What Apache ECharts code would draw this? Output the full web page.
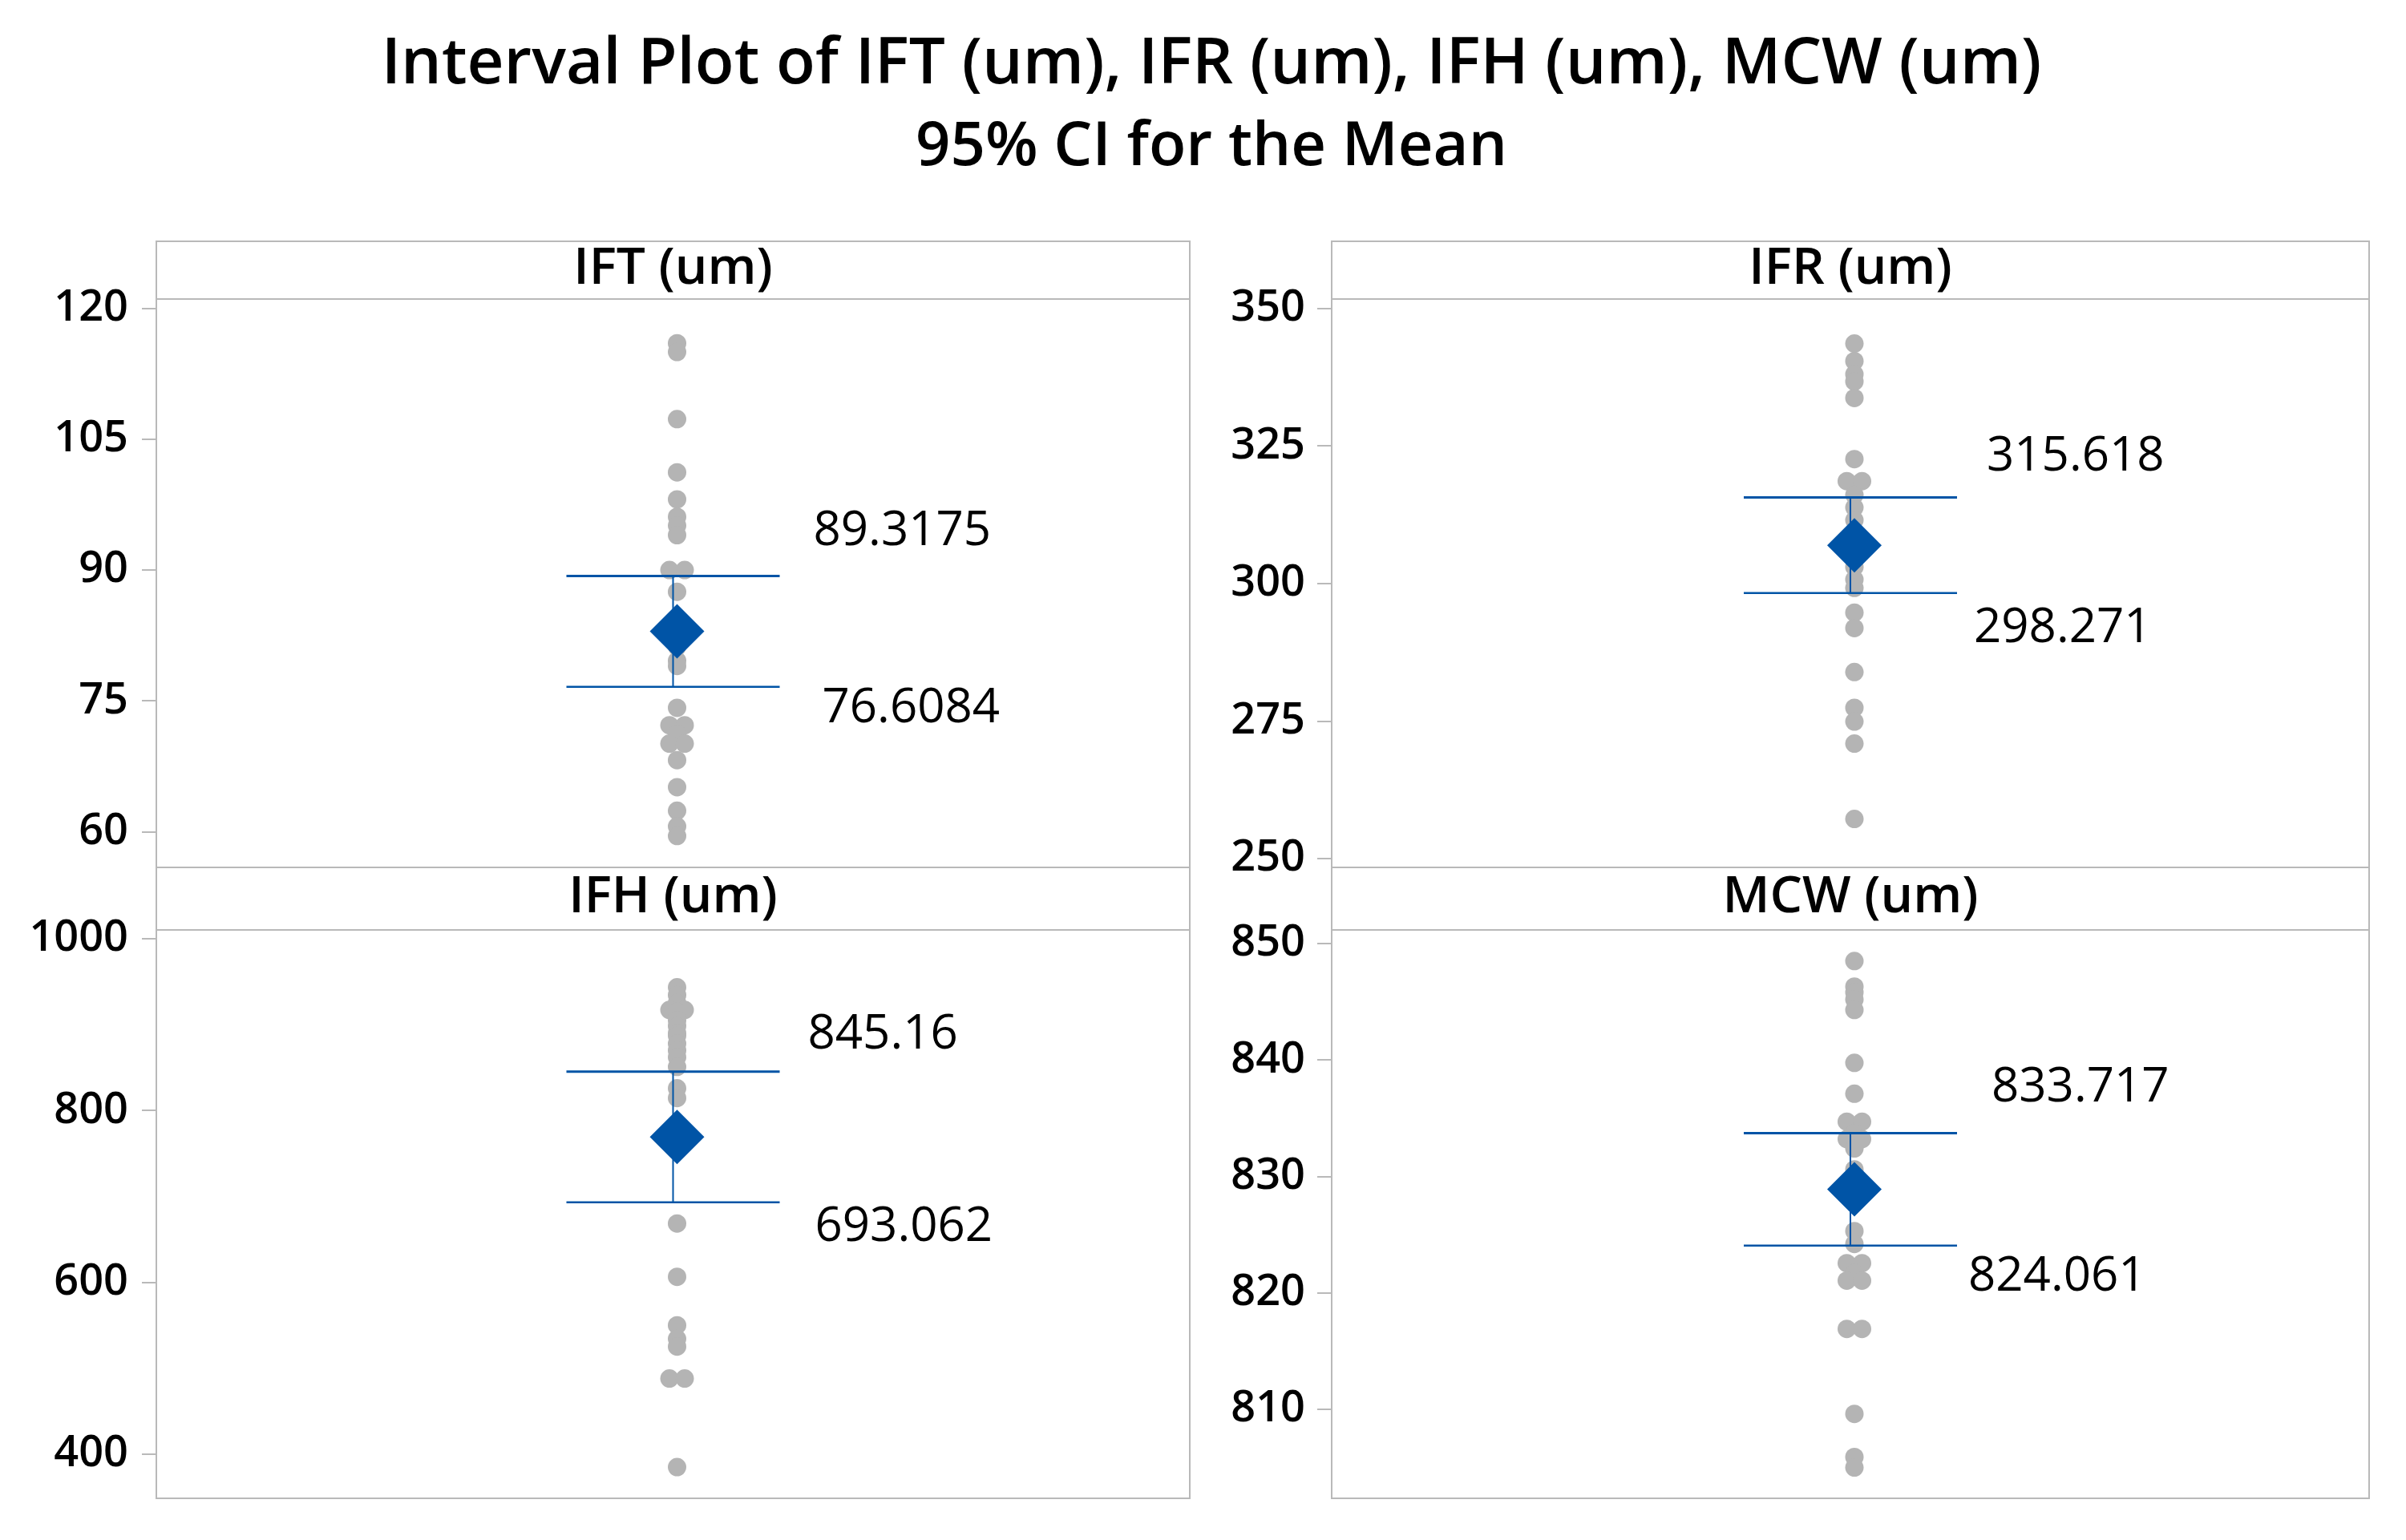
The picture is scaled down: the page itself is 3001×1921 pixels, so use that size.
<!DOCTYPE html>
<html>
<head>
<meta charset="utf-8">
<script src="https://cdn.jsdelivr.net/npm/echarts@6/dist/echarts.min.js"></script>
<style>html,body{margin:0;padding:0;background:#fff}#c{width:3001px;height:1921px}</style>
</head>
<body>
<div id="c"></div>
<script>
// ---------- data ----------
const categories = ['IFT (um)', 'IFR (um)', 'IFH (um)', 'MCW (um)'];
const IFT = [116.0, 115.0, 107.3, 101.2, 98.1, 96.1, 95.1, 94.0, 90.0, 90.0, 87.5, 82.3, 81.2, 79.6, 79.0, 74.2, 72.2, 72.2, 71.2, 70.1, 70.1, 68.2, 65.1, 62.4, 60.6, 59.5];
const IFR = [343.6, 340.4, 338.0, 336.7, 333.7, 322.6, 318.6, 318.6, 316.1, 313.8, 311.5, 309.0, 306.0, 303.0, 300.7, 299.2, 294.7, 291.9, 283.9, 277.4, 274.9, 270.9, 257.2];
const IFH = [943.4, 934.4, 925.3, 917.0, 917.0, 915.0, 905.0, 898.2, 890.0, 886.9, 877.8, 870.0, 862.0, 850.7, 825.8, 814.5, 668.3, 606.3, 549.8, 534.0, 525.0, 487.8, 487.8, 384.6];
const MCW = [848.5, 846.3, 845.8, 845.2, 844.3, 839.75, 837.1, 834.7, 834.7, 833.7, 833.2, 833.2, 832.4, 830.6, 825.3, 824.2, 822.55, 822.55, 821.7, 821.05, 821.05, 816.9, 816.9, 809.6, 805.9, 805.0];
const ciLower = [76.6084, 298.271, 693.062, 824.061];
const ciUpper = [89.3175, 315.618, 845.16, 833.717];
const means = [82.963, 306.944, 769.111, 828.889];
const ticksIFT = [60, 75, 90, 105, 120];
const ticksIFR = [250, 275, 300, 325, 350];
const ticksIFH = [400, 600, 800, 1000];
const ticksMCW = [810, 820, 830, 840, 850];

const values = [IFT, IFR, IFH, MCW];
const ticks = [ticksIFT, ticksIFR, ticksIFH, ticksMCW];

// ---------- layout / style ----------
const FONT = '"Open Sans", "Noto Sans", sans-serif';
const BLUE = '#0054a6';
const GREY_DOT = '#b4b4b4';
const FRAME = '#b9b9b9';
const axisRange = [[55.9, 121.07], [248.4, 351.69], [348.3, 1010.2], [802.35, 851.17]];
const panels = [
  {left: 195, width: 1289, stripTop: 301, top: 373, height: 709, labUp: [42, -56], labLo: [53, 27], margin: 35},
  {left: 1661, width: 1294, stripTop: 301, top: 373, height: 709, labUp: [37, -51], labLo: [21, 44], margin: 33},
  {left: 195, width: 1289, stripTop: 1082, top: 1160, height: 709, labUp: [35, -46], labLo: [44, 31], margin: 35},
  {left: 1661, width: 1294, stripTop: 1082, top: 1160, height: 709, labUp: [43, -57], labLo: [14, 39], margin: 33}
];
const DOT = 23, DODGE = 19, DOT_SHIFT = 5, CAP_HALF = 133, DIAMOND = 68;

function dodge(vals) {
  return vals.map((v, i) => {
    const same = [];
    vals.forEach((w, j) => { if (w === v) same.push(j); });
    const k = same.length, pos = same.indexOf(i);
    return (pos - (k - 1) / 2) * DODGE;
  });
}

const grid = [], xAxis = [], yAxis = [], series = [], graphic = [];

panels.forEach((P, i) => {
  grid.push({left: P.left, top: P.top, width: P.width, height: P.height,
    show: true, borderColor: FRAME, borderWidth: 2, backgroundColor: 'transparent', containLabel: false});
  xAxis.push({gridIndex: i, type: 'value', min: -1, max: 1, show: false});
  yAxis.push({gridIndex: i, type: 'value', position: 'left', min: axisRange[i][0], max: axisRange[i][1],
    axisLine: {show: true, onZero: false, lineStyle: {color: FRAME, width: 2}},
    axisTick: {show: true, length: 18, customValues: ticks[i], lineStyle: {color: FRAME, width: 2}},
    axisLabel: {customValues: ticks[i], fontSize: 54, fontWeight: 600, fontFamily: FONT, color: '#000',
      margin: P.margin, formatter: v => String(v)},
    splitLine: {show: false}});

  const offs = dodge(values[i]);
  series.push({type: 'scatter', xAxisIndex: i, yAxisIndex: i, z: 2, silent: true,
    symbol: 'circle', symbolSize: DOT, itemStyle: {color: GREY_DOT, opacity: 1},
    data: values[i].map((v, j) => ({value: [0, v], symbolOffset: [offs[j] + DOT_SHIFT, 0]}))});

  series.push({type: 'custom', xAxisIndex: i, yAxisIndex: i, z: 3, silent: true, clip: false,
    data: [[0, ciLower[i], ciUpper[i]]],
    renderItem: (params, api) => {
      const lo = api.value(1), hi = api.value(2);
      const pLo = api.coord([0, lo]), pHi = api.coord([0, hi]);
      const x = pLo[0];
      const txt = (t, dx, dy, y0) => ({type: 'text', x: x + CAP_HALF + dx, y: y0 + dy,
        style: {text: t, fontSize: 60, fontFamily: FONT, fill: '#000',
          align: 'left', verticalAlign: 'middle', textAlign: 'left', textVerticalAlign: 'middle'}});
      return {type: 'group', children: [
        {type: 'line', shape: {x1: x, y1: pHi[1], x2: x, y2: pLo[1]}, style: {stroke: BLUE, lineWidth: 2}},
        {type: 'line', shape: {x1: x - CAP_HALF, y1: pHi[1], x2: x + CAP_HALF, y2: pHi[1]}, style: {stroke: BLUE, lineWidth: 3}},
        {type: 'line', shape: {x1: x - CAP_HALF, y1: pLo[1], x2: x + CAP_HALF, y2: pLo[1]}, style: {stroke: BLUE, lineWidth: 2.5}},
        txt(String(hi), P.labUp[0], P.labUp[1], pHi[1]),
        txt(String(lo), P.labLo[0], P.labLo[1], pLo[1])
      ]};
    }});

  series.push({type: 'scatter', xAxisIndex: i, yAxisIndex: i, z: 4, silent: true,
    symbol: 'diamond', symbolSize: [DIAMOND, DIAMOND], symbolOffset: [DOT_SHIFT, 0],
    itemStyle: {color: BLUE, opacity: 1}, data: [[0, means[i]]]});

  graphic.push({type: 'rect', z: 1,
    shape: {x: P.left, y: P.stripTop, width: P.width, height: P.top - P.stripTop},
    style: {fill: '#fff', stroke: FRAME, lineWidth: 2}});
  graphic.push({type: 'text', z: 5, x: P.left + P.width / 2, y: (P.stripTop + P.top) / 2 - 1,
    style: {text: categories[i], fontSize: 64, fontWeight: 600, fontFamily: FONT, fill: '#000',
      align: 'center', verticalAlign: 'middle', textAlign: 'center', textVerticalAlign: 'middle'}});
});

graphic.push({type: 'text', x: 1511, y: 81,
  style: {text: 'Interval Plot of IFT (um), IFR (um), IFH (um), MCW (um)', fontSize: 80, fontWeight: 600,
    fontFamily: FONT, fill: '#000', align: 'center', verticalAlign: 'middle', textAlign: 'center', textVerticalAlign: 'middle'}});
graphic.push({type: 'text', x: 1511, y: 184,
  style: {text: '95% CI for the Mean', fontSize: 76, fontWeight: 600,
    fontFamily: FONT, fill: '#000', align: 'center', verticalAlign: 'middle', textAlign: 'center', textVerticalAlign: 'middle'}});

const chart = echarts.init(document.getElementById('c'), null, {renderer: 'canvas'});
chart.setOption({animation: false, backgroundColor: '#fff', grid, xAxis, yAxis, series, graphic});
</script>
</body>
</html>
